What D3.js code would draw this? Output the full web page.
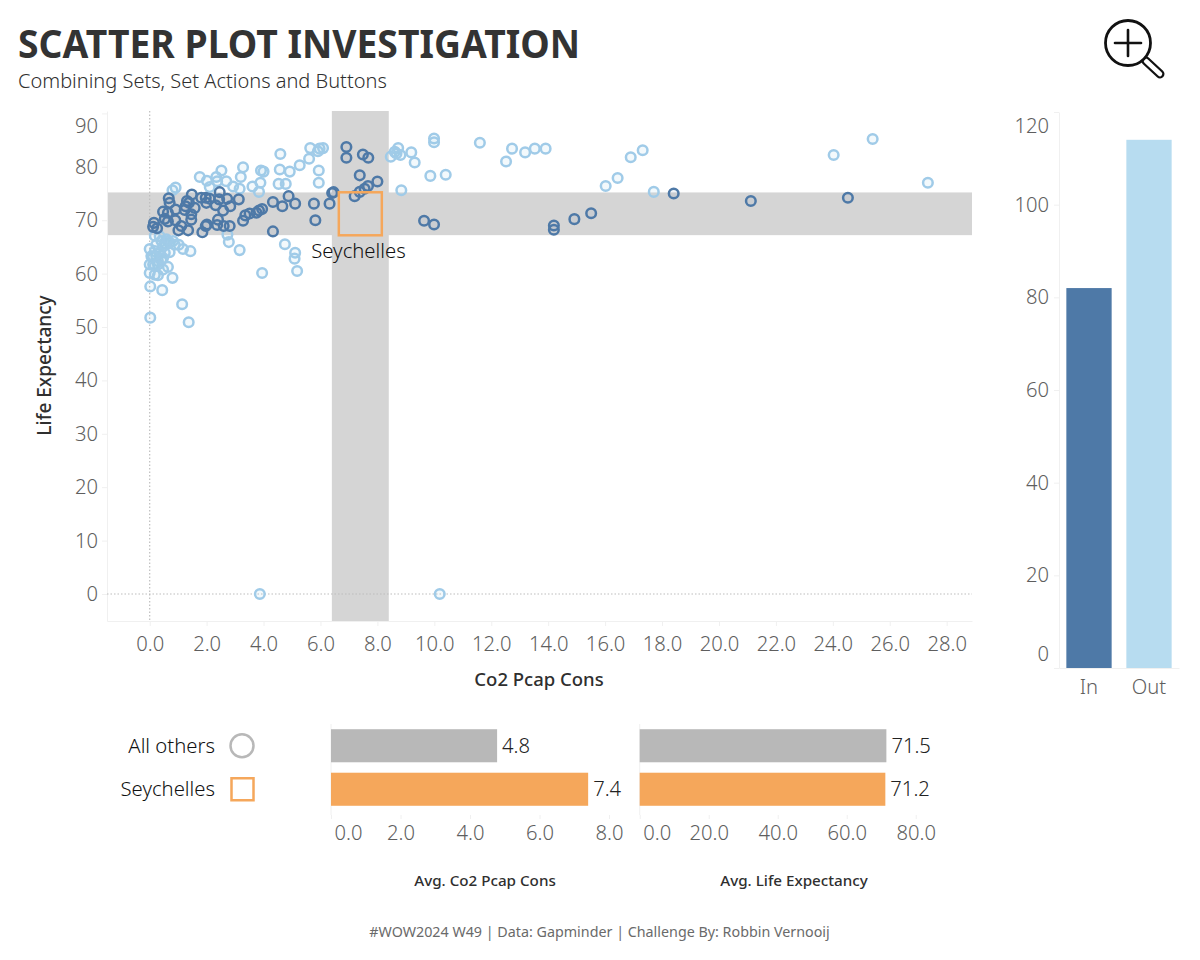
<!DOCTYPE html>
<html><head><meta charset="utf-8">
<script src="https://cdn.jsdelivr.net/npm/d3@7"></script>
<style>
html,body{margin:0;padding:0;background:#fff}
svg{display:block}
text{font-family:"Noto Sans","Open Sans",sans-serif}
</style></head><body>
<svg id="c" width="1200" height="960"></svg>
<script>
const titleText="SCATTER PLOT INVESTIGATION";
const subtitleText="Combining Sets, Set Actions and Buttons";
const footerText="#WOW2024 W49 | Data: Gapminder | Challenge By: Robbin Vernooij";
const selectedName="Seychelles";
const selectedPoint=[7.4,71.2];
const bandHalfX=1, bandHalfY=4;
const xTicks=[0,2,4,6,8,10,12,14,16,18,20,22,24,26,28];
const yTicks=[0,10,20,30,40,50,60,70,80,90];
const inPoints=[[.15,69.5],[.12,68.75],[.26,68.5],[.67,74.1],[.7,73.25],[.47,71.6],[.64,71.4],[.53,70.25],[.64,69.75],[.91,72],[.9,70],[1.11,68.9],[1.01,68.1],[1.35,68.1],[1.48,74.8],[1.31,73.6],[1.26,72.6],[1.23,71.9],[1.58,72.3],[1.46,71.1],[1.46,70.1],[1.38,73.25],[1.81,74.2],[1.97,74.2],[1.99,73.25],[2.11,74],[2.46,75.25],[2.44,73.9],[2.32,72.8],[2.72,74],[2.58,71.8],[2.83,72.6],[3.13,73.9],[2.4,70.1],[2.01,69.2],[1.97,68.9],[2.37,69.1],[2.6,68.9],[2.81,68.9],[1.85,67.75],[3.28,69.9],[3.36,70.9],[3.51,71.25],[3.75,71.4],[3.84,71.8],[3.95,72.1],[4.33,73.4],[4.66,72.6],[4.88,74.5],[5.11,73.1],[4.33,67.9],[5.77,73.1],[5.82,70],[6.32,73.1],[6.41,75.1],[6.46,75.25],[7.2,74.5],[7.38,75.3],[7.55,75.9],[7.67,76.4],[8,77.25],[7.38,78.4],[6.91,83.7],[6.91,81.7],[7.49,82.3],[7.68,81.7],[9.64,69.9],[9.99,69.2],[14.2,69],[14.2,68.2],[14.92,70.2],[15.51,71.3],[18.41,75],[21.12,73.6],[24.53,74.2]];
const outPoints=[[.91,76.1],[.8,75.6],[1.76,78.1],[2.01,77.4],[2.34,78.1],[2.52,79.3],[2.37,77.3],[2.69,77.3],[2.11,76.2],[2.93,76.3],[3.16,75.9],[3.2,78.1],[3.28,79.9],[3.61,76.3],[3.89,77],[3.84,75.3],[3.91,79.3],[4,79.1],[4.57,79.5],[4.92,79.1],[5.27,80.3],[5.6,81.5],[5.64,83.5],[5.91,82.9],[5.97,83.4],[6.09,83.5],[4.59,82.4],[4.53,76.8],[4.78,76.8],[5.94,79.3],[5.94,77],[.18,67.1],[2.73,67.3],[2.78,65.9],[3.16,64.4],[4.75,65.5],[5.11,63.9],[5.09,62.8],[5.18,60.5],[3.95,60.1],[1.43,64.2],[1.17,64.6],[1.02,65.4],[.8,59.2],[.44,56.9],[.02,57.6],[1.14,54.25],[1.37,50.9],[.02,51.75],[0,64.6],[.06,63.25],[.23,63.25],[.12,61.7],[.29,61.7],[.64,61.25],[.47,60.75],[0,60.1],[.18,59.8],[.29,59.7],[.53,65.75],[.7,65.75],[.41,66.1],[.59,66.4],[.82,66.1],[.35,67],[.23,65.4],[.7,64],[.53,63.9],[.41,62.6],[0,61.7],[.18,64.2],[.64,66.1],[.47,65.1],[.88,65.4],[.35,63.9],[.29,62.3],[.47,62.9],[.12,63.25],[.18,61.4],[8.47,81.9],[8.61,82.8],[8.73,83.5],[8.81,82.2],[8.67,82.5],[9.19,82.7],[9.31,80.8],[9.86,78.3],[10.4,78.5],[8.84,75.6],[9.99,85.3],[9.99,84.6],[11.6,84.5],[12.73,83.4],[12.52,81],[13.19,82.7],[13.53,83.4],[13.91,83.4],[16.02,76.4],[16.44,77.9],[16.9,81.8],[17.32,83.1],[17.71,75.3],[24.03,82.2],[25.4,85.2],[27.34,77],[3.87,0],[10.19,0]];
const setNames=["In","Out"];
const setCounts=[82,114];
const setTicks=[0,20,40,60,80,100,120];
const legendNames=["All others",selectedName];
const avgCo2=[4.78,7.4];
const avgLife=[71.5,71.2];
const avgCo2Labels=["4.8","7.4"];
const avgLifeLabels=["71.5","71.2"];
const co2Ticks=[0,2,4,6,8];
const lifeTicks=[0,20,40,60,80];

const C={dark:"#4e79a7",light:"#a0cbe8",lightBar:"#b7dcf0",band:"#d5d5d5",grey:"#b8b8b8",orange:"#f5a75b",tick:"#5e5e5e",faint:"#f0f0f0",ink:"#2f2f2f"};
const svg=d3.select("#c");
const x=d3.scaleLinear().domain([-1.5,28.89]).range([107,972]);
const y=d3.scaleLinear().domain([-5.06,90.45]).range([621,111]);

function styleAxis(g){
  g.selectAll(".domain").attr("stroke",C.faint);
  g.selectAll(".tick line").attr("stroke",C.faint);
  g.selectAll(".tick text").attr("fill",C.tick).style("font-size","20.2px").style("font-weight",300);
}
// bands
svg.append("rect").attr("x",x.range()[0]).attr("width",x.range()[1]-x.range()[0])
  .attr("y",y(selectedPoint[1]+bandHalfY)).attr("height",y(selectedPoint[1]-bandHalfY)-y(selectedPoint[1]+bandHalfY)).attr("fill",C.band);
svg.append("rect").attr("y",y.range()[1]).attr("height",y.range()[0]-y.range()[1])
  .attr("x",x(selectedPoint[0]-bandHalfX)).attr("width",x(selectedPoint[0]+bandHalfX)-x(selectedPoint[0]-bandHalfX)).attr("fill",C.band);
// axes
const gx=svg.append("g").attr("transform","translate(0,621)").call(d3.axisBottom(x).tickValues(xTicks).tickFormat(d3.format(".1f")).tickSize(5).tickSizeOuter(0));
styleAxis(gx); gx.selectAll(".tick text").attr("y",16).attr("dy","0.71em");
const gy=svg.append("g").attr("transform","translate(107,0)").call(d3.axisLeft(y).tickValues(yTicks).tickSize(5).tickSizeOuter(0));
styleAxis(gy); gy.selectAll(".tick text").attr("x",-9)
  .attr("transform",d=>d===90?`translate(0,${126-y(90)})`:null);
// zero lines
svg.append("line").attr("x1",x(0)).attr("x2",x(0)).attr("y1",111).attr("y2",621).attr("stroke","#bdbdbd").attr("stroke-width",1.2).attr("stroke-dasharray","1.5 2");
svg.append("line").attr("x1",107).attr("x2",972).attr("y1",y(0)).attr("y2",y(0)).attr("stroke","#bdbdbd").attr("stroke-width",1.2).attr("stroke-dasharray","1.5 2");
// points
svg.append("g").selectAll("circle").data(outPoints).join("circle")
  .attr("cx",d=>x(d[0])).attr("cy",d=>y(d[1])).attr("r",4.8)
  .attr("fill",C.light).attr("fill-opacity",.12).attr("stroke",C.light).attr("stroke-width",2.5);
svg.append("g").selectAll("circle").data(inPoints).join("circle")
  .attr("cx",d=>x(d[0])).attr("cy",d=>y(d[1])).attr("r",4.8)
  .attr("fill",C.dark).attr("fill-opacity",.08).attr("stroke",C.dark).attr("stroke-width",2.5);
// selected
svg.append("rect").attr("x",x(selectedPoint[0])-21.5).attr("y",y(selectedPoint[1])-21.5).attr("width",43).attr("height",43)
  .attr("fill","none").attr("stroke",C.orange).attr("stroke-width",2.5);
svg.append("text").attr("x",358.5).attr("y",258).attr("text-anchor","middle").attr("fill","#111").style("font-size","20.3px").style("font-weight",300).text(selectedName);
// axis titles
svg.append("text").attr("x",539).attr("y",686).attr("text-anchor","middle").attr("fill",C.ink).style("font-size","18.5px").style("font-weight",500).text("Co2 Pcap Cons");
svg.append("text").attr("transform","translate(51,365.5) rotate(-90)").attr("text-anchor","middle").attr("fill",C.ink).style("font-size","19px").style("font-weight",500).text("Life Expectancy");

// right bars
const bx=d3.scaleBand().domain(setNames).range([1059,1179]).paddingInner(.245).paddingOuter(.1225);
const by=d3.scaleLinear().domain([0,120]).range([668,112]);
const rgx=svg.append("g").attr("transform","translate(0,668)").call(d3.axisBottom(bx).tickSize(0));
styleAxis(rgx); rgx.selectAll(".tick text").attr("y",12).attr("dy","0.71em");
const rgy=svg.append("g").attr("transform","translate(1059,0)").call(d3.axisLeft(by).tickValues(setTicks).tickSize(5).tickSizeOuter(0));
styleAxis(rgy); rgy.selectAll(".tick text").attr("x",-10)
  .attr("transform",d=>d===120?`translate(0,${126-by(120)})`:d===0?`translate(0,${654-by(0)})`:null);
svg.append("g").selectAll("rect").data(setNames).join("rect")
  .attr("x",d=>bx(d)).attr("width",bx.bandwidth()).attr("y",(d,i)=>by(setCounts[i])).attr("height",(d,i)=>by(0)-by(setCounts[i]))
  .attr("fill",(d,i)=>i?C.lightBar:C.dark);

// bottom panels
const rowY=d3.scaleBand().domain(legendNames).range([724,811]).paddingInner(.24).paddingOuter(.12);
const rowColor=i=>i?C.orange:C.grey;
function panel(scale,values,labels,ticks,labelX0,title,titleX){
  const a=svg.append("g").attr("transform","translate(0,815)").call(d3.axisBottom(scale).tickValues(ticks).tickFormat(d3.format(".1f")).tickSize(4).tickSizeOuter(0));
  a.select(".domain").remove();
  styleAxis(a);
  a.selectAll(".tick text").attr("y",11).attr("dy","0.71em").attr("transform",d=>d===0?`translate(${labelX0},0)`:null);
  svg.append("line").attr("x1",scale(0)).attr("x2",scale(0)).attr("y1",724).attr("y2",815).attr("stroke",C.faint);
  svg.append("g").selectAll("rect").data(legendNames).join("rect")
    .attr("x",scale(0)).attr("y",d=>rowY(d)).attr("height",rowY.bandwidth())
    .attr("width",(d,i)=>scale(values[i])-scale(0)).attr("fill",(d,i)=>rowColor(i));
  svg.append("g").selectAll("text").data(legendNames).join("text")
    .attr("x",(d,i)=>scale(values[i])+5).attr("y",d=>rowY(d)+rowY.bandwidth()/2).attr("dy","0.35em")
    .attr("fill","#222").style("font-size","20.2px").style("font-weight",300).text((d,i)=>labels[i]);
  svg.append("text").attr("x",titleX).attr("y",886).attr("text-anchor","middle").attr("fill",C.ink).style("font-size","15.2px").style("font-weight",500).text(title);
}
panel(d3.scaleLinear().domain([0,8]).range([331,609]),avgCo2,avgCo2Labels,co2Ticks,17,"Avg. Co2 Pcap Cons",485);
panel(d3.scaleLinear().domain([0,80]).range([639.7,915.7]),avgLife,avgLifeLabels,lifeTicks,17,"Avg. Life Expectancy",794);

// legend
svg.append("g").selectAll("text").data(legendNames).join("text")
  .attr("x",215).attr("y",d=>rowY(d)+rowY.bandwidth()/2).attr("dy","0.35em").attr("text-anchor","end").attr("fill","#111").style("font-size","20.3px").style("font-weight",300).text(d=>d);
svg.append("circle").attr("cx",242).attr("cy",rowY(legendNames[0])+rowY.bandwidth()/2).attr("r",11.5).attr("fill","none").attr("stroke",C.grey).attr("stroke-width",2.5);
svg.append("rect").attr("x",231.5).attr("y",rowY(legendNames[1])+rowY.bandwidth()/2-11).attr("width",22).attr("height",22).attr("fill","none").attr("stroke",C.orange).attr("stroke-width",2.5);

// header
svg.append("text").attr("x",18).attr("y",58).attr("fill","#333").attr("textLength",562).attr("lengthAdjust","spacingAndGlyphs").style("font-size","40px").style("font-weight",700).text(titleText);
svg.append("text").attr("x",18).attr("y",88).attr("fill",C.ink).style("font-size","20px").style("font-weight",300).text(subtitleText);
svg.append("text").attr("x",599.5).attr("y",937).attr("text-anchor","middle").attr("fill","#6a6a6a").style("font-size","14.3px").text(footerText);

// magnifier icon
const icon=svg.append("g").attr("fill","none").attr("stroke","#111").attr("stroke-linecap","round");
icon.append("line").attr("x1",1146).attr("y1",61).attr("x2",1160).attr("y2",74).attr("stroke-width",9);
icon.append("line").attr("x1",1146).attr("y1",61).attr("x2",1160).attr("y2",74).attr("stroke-width",4.5).attr("stroke","#fff");
icon.append("circle").attr("cx",1128).attr("cy",43).attr("r",22.5).attr("stroke-width",2.8).attr("fill","#fff");
icon.append("line").attr("x1",1115).attr("y1",43).attr("x2",1141).attr("y2",43).attr("stroke-width",2.6);
icon.append("line").attr("x1",1128).attr("y1",30).attr("x2",1128).attr("y2",56).attr("stroke-width",2.6);
</script>
</body></html>
